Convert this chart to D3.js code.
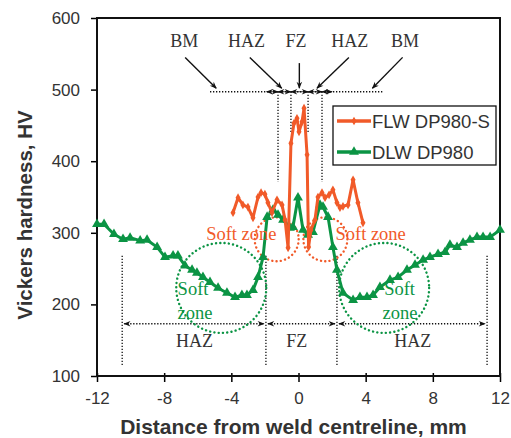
<!DOCTYPE html>
<html>
<head>
<meta charset="utf-8">
<script src="https://cdn.jsdelivr.net/npm/d3@7"></script>
<style>
  body { margin: 0; background: #fff; }
  text { fill: #333; }
</style>
</head>
<body>
<svg id="graph" width="511" height="438"></svg>
<script>
// Hardness traverse, distance in mm and hardness in HV
const flwX = [-3.90, -3.60, -3.31, -3.01, -2.71, -2.41, -2.23, -2.00, -1.82, -1.58, -1.28, -0.98, -0.80, -0.62,
  -0.45, -0.27, -0.09, 0.03, 0.21, 0.33, 0.51, 0.60, 0.74, 0.98, 1.16, 1.40, 1.58, 1.82, 2.05, 2.29, 2.47, 2.65,
  2.95, 3.25, 3.54, 3.84];
const flwHV = [328, 349, 339, 336, 321, 350, 356, 354, 342, 328, 346, 339, 318, 279,
  425, 453, 460, 441, 455, 474, 409, 280, 304, 318, 350, 356, 349, 353, 360, 342, 335, 337,
  339, 374, 342, 314];

const dlwX = [-12.0, -11.58, -10.99, -10.45, -10.03, -9.43, -9.02, -8.42, -7.95, -7.47, -7.18, -6.76, -6.34,
  -6.05, -5.69, -5.27, -4.79, -4.26, -3.78, -3.37, -3.07, -2.71, -2.41, -2.11, -1.87, -1.52, -1.22, -0.92,
  -0.51, -0.33, -0.03, 0.27, 0.57, 0.86, 1.28, 1.46, 1.76, 2.05, 2.29, 2.65, 3.25, 3.66, 4.08, 4.44, 4.85,
  5.45, 5.93, 6.46, 6.94, 7.42, 7.83, 8.31, 8.73, 9.02, 9.44, 9.80, 10.21, 10.63, 10.99, 11.41, 12.0];
const dlwHV = [312, 312, 298, 291, 293, 289, 290, 280, 266, 268, 268, 254, 248,
  244, 238, 231, 223, 216, 210, 213, 213, 220, 238, 266, 322, 332, 325, 318,
  307, 308, 349, 304, 297, 301, 339, 336, 322, 280, 248, 216, 206, 210, 210, 213, 224,
  234, 238, 248, 255, 262, 266, 270, 273, 283, 280, 286, 290, 294, 294, 294, 304];

const xTicks = [-12, -8, -4, 0, 4, 8, 12];
const yTicks = [100, 200, 300, 400, 500, 600];
const seriesNames = ['FLW DP980-S', 'DLW DP980'];
const colors = ['#f15a29', '#0b9444'];

// Zone boundaries in mm
const zoneLines = [-10.5, -1.94, 2.29, 11.23];
const zoneLabels = [{t: 'HAZ', x: -6.2}, {t: 'FZ', x: -0.1}, {t: 'HAZ', x: 6.8}];
const topLines = [-1.22, -0.45, 0.57, 1.40];

const svg = d3.select('#graph'),
  margin = {top: 18, right: 11, bottom: 62, left: 97},
  width = +svg.attr('width') - margin.left - margin.right,
  height = +svg.attr('height') - margin.top - margin.bottom;

const x = d3.scaleLinear().domain([-12, 12]).range([0, width]);
const y = d3.scaleLinear().domain([100, 600]).range([height, 0]);

const defs = svg.append('defs');
defs.append('marker')
  .attr('id', 'arrow')
  .attr('viewBox', '0 0 10 10')
  .attr('refX', 9).attr('refY', 5)
  .attr('markerWidth', 9).attr('markerHeight', 7)
  .attr('markerUnits', 'userSpaceOnUse')
  .attr('orient', 'auto-start-reverse')
  .append('path').attr('d', 'M0,1 L10,5 L0,9 L3,5 Z').attr('fill', '#111');

const g = svg.append('g').attr('transform', `translate(${margin.left},${margin.top})`);

const font = 'Liberation Sans, Arial, sans-serif';
const serif = 'Liberation Serif, Times New Roman, serif';

// Axes
g.append('g')
  .attr('transform', `translate(0,${height})`)
  .call(d3.axisBottom(x).tickValues(xTicks).tickFormat(d => String(d)).tickSize(6).tickPadding(10))
  .call(a => a.select('.domain').remove())
  .call(a => a.selectAll('.tick line').attr('y1', -3).attr('stroke-width', 1.5))
  .call(a => a.selectAll('text').style('font-family', font).style('font-size', '17px').attr('fill', '#333'));

g.append('g')
  .call(d3.axisLeft(y).tickValues(yTicks).tickSize(6).tickPadding(11))
  .call(a => a.select('.domain').remove())
  .call(a => a.selectAll('.tick line').attr('stroke-width', 1.5))
  .call(a => a.selectAll('text').style('font-family', font).style('font-size', '17px').attr('fill', '#333'));

// Frame
g.append('rect')
  .attr('width', width).attr('height', height)
  .attr('fill', 'none').attr('stroke', '#111').attr('stroke-width', 2);

// Axis titles
g.append('text')
  .attr('x', width / 2 - 5).attr('y', height + 58)
  .attr('text-anchor', 'middle')
  .style('font-family', font).style('font-size', '21px').style('font-weight', 'bold')
  .text('Distance from weld centreline, mm');

g.append('text')
  .attr('transform', `translate(${-65},${height / 2 + 18}) rotate(-90)`)
  .attr('text-anchor', 'middle')
  .style('font-family', font).style('font-size', '20.5px').style('font-weight', 'bold')
  .text('Vickers hardness, HV');

const dotted = sel => sel.attr('stroke', '#111').attr('stroke-width', 1.3).attr('stroke-dasharray', '1.3,1.7').attr('fill', 'none');

// Top annotation
g.append('line').call(dotted)
  .attr('x1', x(-5.27)).attr('x2', x(5.09)).attr('y1', y(497)).attr('y2', y(497));
topLines.forEach((d, i) => {
  const outer = i === 0 || i === 3;
  g.append('line').call(dotted)
    .attr('x1', x(d)).attr('x2', x(d)).attr('y1', y(497)).attr('y2', y(outer ? 371 : 440));
});
const topMarks = [[-1.9, -1.22], [-1.22, -0.45], [-0.45, 0.57], [0.57, 1.40], [1.40, 2.0]];
topMarks.forEach(d => {
  g.append('line')
    .attr('x1', x(d[0])).attr('x2', x(d[1])).attr('y1', y(497)).attr('y2', y(497))
    .attr('stroke', '#111').attr('stroke-width', 0.8)
    .attr('marker-start', 'url(#arrow)').attr('marker-end', 'url(#arrow)');
});

const topLabels = [
  {t: 'BM', lx: -6.8, ax: [-6.75, -4.9]},
  {t: 'HAZ', lx: -3.1, ax: [-2.9, -1.0]},
  {t: 'FZ', lx: -0.15, ax: [0.05, 0.05]},
  {t: 'HAZ', lx: 3.05, ax: [3.0, 1.1]},
  {t: 'BM', lx: 6.35, ax: [6.2, 4.4]}
];
topLabels.forEach(d => {
  g.append('text')
    .attr('x', x(d.lx)).attr('y', y(560))
    .attr('text-anchor', 'middle')
    .style('font-family', serif).style('font-size', '18px')
    .text(d.t);
  g.append('line')
    .attr('x1', x(d.ax[0])).attr('x2', x(d.ax[1]))
    .attr('y1', y(d.t === 'FZ' ? 537 : 545)).attr('y2', y(502))
    .attr('stroke', '#111').attr('stroke-width', 1.4)
    .attr('marker-end', 'url(#arrow)');
});

// Bottom annotation
zoneLines.forEach(d => {
  g.append('line').call(dotted)
    .attr('x1', x(d)).attr('x2', x(d)).attr('y1', y(268)).attr('y2', y(114));
});
for (let i = 0; i < zoneLines.length - 1; i++) {
  g.append('line').call(dotted)
    .attr('x1', x(zoneLines[i]) + 2).attr('x2', x(zoneLines[i + 1]) - 2)
    .attr('y1', y(173)).attr('y2', y(173))
    .attr('marker-start', 'url(#arrow)').attr('marker-end', 'url(#arrow)');
}
zoneLabels.forEach(d => {
  g.append('text')
    .attr('x', x(d.x)).attr('y', y(140))
    .attr('text-anchor', 'middle')
    .style('font-family', serif).style('font-size', '18px')
    .text(d.t);
});

// Soft zone circles
const softGreen = [{cx: -4.6, cy: 223}, {cx: 5.1, cy: 223}];
softGreen.forEach(d => {
  g.append('circle')
    .attr('cx', x(d.cx)).attr('cy', y(d.cy)).attr('r', 45)
    .attr('fill', 'none').attr('stroke', colors[1]).attr('stroke-width', 2.4)
    .attr('stroke-dasharray', '0.1,4.2').attr('stroke-linecap', 'round');
});
const softOrange = [{cx: -1.3, cy: 291}, {cx: 1.6, cy: 291}];
softOrange.forEach(d => {
  g.append('circle')
    .attr('cx', x(d.cx)).attr('cy', y(d.cy)).attr('r', 22)
    .attr('fill', 'none').attr('stroke', colors[0]).attr('stroke-width', 2.4)
    .attr('stroke-dasharray', '0.1,4.2').attr('stroke-linecap', 'round');
});

// Series
const drawSeries = (xs, ys, color, symbol, size) => {
  const pts = xs.map((d, i) => [x(d), y(ys[i])]);
  g.append('path')
    .datum(pts)
    .attr('fill', 'none')
    .attr('stroke', color)
    .attr('stroke-width', 3)
    .attr('stroke-linejoin', 'round')
    .attr('d', d3.line());
  g.selectAll(null)
    .data(pts)
    .join('path')
    .attr('transform', d => `translate(${d[0]},${d[1]})`)
    .attr('d', d3.symbol(symbol, size))
    .attr('fill', color);
};
drawSeries(dlwX, dlwHV, colors[1], d3.symbolTriangle, 42);
drawSeries(flwX, flwHV, colors[0], d3.symbolDiamond, 22);

// Soft zone labels
const softText = [
  {t: 'Soft zone', x: -5.5, y: 290, c: colors[0]},
  {t: 'Soft zone', x: 2.2, y: 290, c: colors[0]},
  {t: 'Soft', x: -7.2, y: 213, c: colors[1]},
  {t: 'zone', x: -7.2, y: 180, c: colors[1]},
  {t: 'Soft', x: 5.1, y: 213, c: colors[1]},
  {t: 'zone', x: 5.0, y: 180, c: colors[1]}
];
softText.forEach(d => {
  g.append('text')
    .attr('x', x(d.x)).attr('y', y(d.y))
    .style('font-family', serif).style('font-size', '18.5px')
    .attr('fill', d.c).style('fill', d.c)
    .text(d.t);
});

// Legend
const legend = svg.append('g').attr('transform', 'translate(333,106)');
legend.append('rect')
  .attr('width', 163).attr('height', 59)
  .attr('fill', '#fff').attr('stroke', '#111').attr('stroke-width', 1.3);
seriesNames.forEach((name, i) => {
  const row = legend.append('g').attr('transform', `translate(0,${15 + i * 31})`);
  row.append('line')
    .attr('x1', 4).attr('x2', 38)
    .attr('stroke', colors[i]).attr('stroke-width', 3.5);
  row.append('path')
    .attr('transform', 'translate(21,0)')
    .attr('d', d3.symbol(i === 0 ? d3.symbolDiamond : d3.symbolTriangle, i === 0 ? 22 : 42))
    .attr('fill', colors[i]);
  row.append('text')
    .attr('x', 39).attr('y', 7)
    .style('font-family', font).style('font-size', '18.5px')
    .text(name);
});
</script>
</body>
</html>
